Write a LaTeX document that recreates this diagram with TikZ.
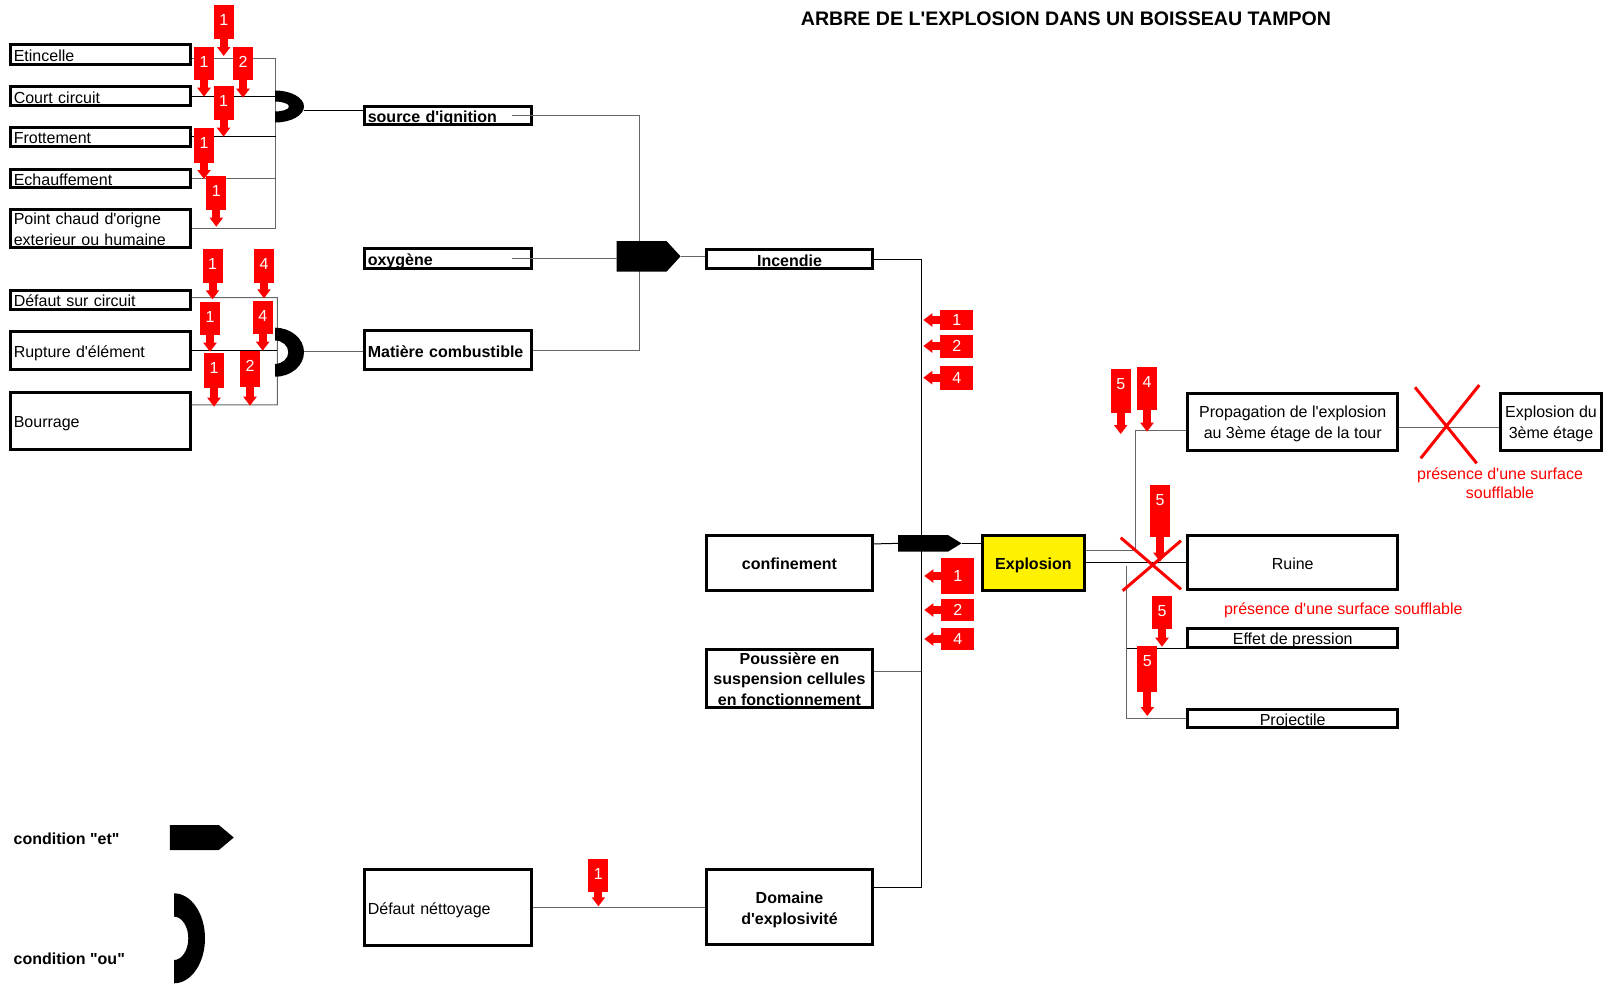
\documentclass[tikz,border=0pt]{standalone}
\usepackage{fontspec}
\setmainfont{Liberation Sans}[Ligatures=TeXOff]
\usetikzlibrary{positioning}
\usetikzlibrary{shapes.symbols}
\usetikzlibrary{arrows.meta}

\tikzset{
  box/.style={draw, line width=1.5pt, inner sep=0pt, font=\fontsize{8}{10.3}\selectfont},
  one/.style={text height=7.5pt, text depth=0.7pt},
  ibox/.style={box, align=left, inner xsep=1.5pt, text width=#1},
  cbox/.style={box, align=center, minimum width=83pt},
  bold/.style={font=\fontsize{8}{10.3}\selectfont\bfseries},
  note/.style={text=red, inner sep=0pt, font=\fontsize{8}{9.6}\selectfont},
  wire/.style={draw=black!60, line width=0.5pt},
  bwire/.style={draw=black, line width=0.5pt},
  cut/.style={draw=red, line width=1.5pt},
  andgate/.style={signal, signal to=east, fill=black, inner sep=0pt, outer sep=0pt},
  flag/.style={fill=red, text=white, minimum width=10pt, inner sep=0pt, outer sep=0pt,
    font=\fontsize{8}{9.8}\selectfont},
  flagnum/.style={text=white, inner xsep=0pt, inner ysep=4.5pt, font=\fontsize{8}{9.8}\selectfont},
  flagarrow/.style={draw=red, line width=4pt, -{Triangle[width=6.5pt, length=4.5pt]}}
}

% name, tip, flag height, arrow length, number
\newcommand{\tikzFlagDown}[5]{
  \coordinate (#1-tip) at #2;
  \node[flag, minimum height=#3, above=#4 of #1-tip] (#1) {};
  \node[flagnum, anchor=north] (#1-num) at (#1.north) {#5};
  \draw[flagarrow] (#1) -- (#1-tip);
}
% name, tip, flag height, number
\newcommand{\tikzFlagLeft}[4]{
  \coordinate (#1-tip) at #2;
  \node[flag, minimum width=16.5pt, minimum height=#3, right=8.5pt of #1-tip] (#1) {#4};
  \draw[flagarrow] (#1) -- (#1-tip);
}
% left middle, outer x/y radius, inner x/y radius
\newcommand{\tikzOrGate}[5]{\fill #1 ++(0,-#3) arc[start angle=90, end angle=-90, x radius=#2*0.5pt, y radius=#3*0.5pt]
  -- ++(0,-#3+#5) arc[start angle=-90, end angle=90, x radius=#4*0.5pt, y radius=#5*0.5pt] -- cycle}
\newcommand{\tikzTopStrut}[1]{\rule{0pt}{#1}}

\begin{document}
\begin{tikzpicture}[x=0.5pt, y=-0.5pt]
\useasboundingbox (0,0) rectangle (1604,986);

\node[font=\fontsize{9.8}{11}\selectfont\bfseries] (title) at (1066,18.5) {ARBRE DE L'EXPLOSION DANS UN BOISSEAU TAMPON};

% causes
\node[ibox=86.7pt, one, minimum height=9.7pt] (etinc) at (100.5,54.5) {Etincelle};
\node[ibox=86.7pt, one, minimum height=9.6pt] (court) at (100.5,96.2) {Court circuit};
\node[ibox=86.7pt, one, minimum height=9.4pt] (frott) at (100.5,136.9) {Frottement};
\node[ibox=86.7pt, one, minimum height=9.2pt] (echauf) at (100.5,178.3) {Echauffement};
\node[ibox=86.7pt, minimum height=19pt] (pchaud) at (100.5,228.2) {\tikzTopStrut{7pt}Point chaud d'origne\\exterieur ou humaine};
\node[ibox=86.7pt, one, minimum height=9.2pt] (defcirc) at (100.5,300) {Défaut sur circuit};
\node[ibox=86.7pt, one, minimum height=18.9pt] (rupt) at (100.5,350.4) {Rupture d'élément};
\node[ibox=86.7pt, one, minimum height=28.6pt] (bourr) at (100.5,420.9) {Bourrage};

\node[ibox=80.2pt, one, bold, minimum height=9pt] (src) at (448,115.5) {source d'ignition};
\node[ibox=80.2pt, one, bold, minimum height=10.2pt] (oxy) at (448,258.4) {oxygène};
\node[ibox=80.2pt, one, bold, minimum height=19.5pt] (matiere) at (448,350.4) {Matière combustible};
\node[ibox=80.2pt, one, minimum height=38.4pt] (defnet) at (448,907.4) {Défaut néttoyage};

\node[cbox, one, bold, minimum height=9.4pt] (incendie) at (789.5,259.2) {Incendie};
\node[cbox, one, bold, minimum height=27.4pt] (confin) at (789.5,562.9) {confinement};
\node[cbox, bold, minimum height=29pt] (pouss) at (789.5,678.8) {Poussière en\\suspension cellules\\en fonctionnement};
\node[cbox, font=\fontsize{8}{10.8}\selectfont\bfseries, minimum height=37.9pt] (domaine) at (789.5,906.9) {\tikzTopStrut{8.8pt}Domaine\\d'explosivité};

\node[cbox, one, bold, fill=yellow, minimum width=51pt, minimum height=27.4pt] (explosion) at (1033.4,562.9) {Explosion};

\node[cbox, minimum width=105.2pt, minimum height=28.5pt] (propag) at (1292.7,421.7) {\tikzTopStrut{7.8pt}Propagation de l'explosion\\au 3ème étage de la tour};
\node[cbox, one, minimum width=105.2pt, minimum height=27pt] (ruine) at (1292.7,562.5) {Ruine};
\node[cbox, one, minimum width=105.2pt, minimum height=9.5pt] (effet) at (1292.7,637.7) {Effet de pression};
\node[cbox, one, minimum width=105.2pt, minimum height=9pt] (project) at (1292.7,718.8) {Projectile};
\node[cbox, minimum width=50.2pt, minimum height=28.5pt] (expl3) at (1551,421.7) {\tikzTopStrut{7.8pt}Explosion du\\3ème étage};

\node[note, align=center] (note1) at (1500,483.2) {présence d'une surface\\soufflable};
\node[note] (note2) at (1343.3,610) {présence d'une surface soufflable};

% wires
\coordinate (busA) at (275.5,58.3);
\draw[wire] ([yshift=-1.9pt]etinc.east) -- (busA) -- (busA |- pchaud.east) -- (pchaud.east);
\draw[bwire] (court.east) -- (court.east -| busA);
\draw[bwire] (frott.east) -- (frott.east -| busA);
\draw[wire] (echauf.east) -- (echauf.east -| busA);
\coordinate (or1) at (304,110.5);
\draw[bwire] (or1) -- (or1 -| src.west);

\coordinate (busA2) at (277.3,297.7);
\coordinate (bourr-o) at ([yshift=8pt]bourr.east);
\draw[wire] ([yshift=1.2pt]defcirc.east) -- (busA2) -- (busA2 |- bourr-o) -- (bourr-o);
\draw[bwire] (rupt.east) -- (rupt.east -| busA2);
\coordinate (or2) at (304,351.7);
\draw[wire] (or2) -- (or2 -| matiere.west);

\coordinate (busB) at (639.3,114.3);
\draw[wire] ([xshift=-10.5pt]src.east) -- (src.east -| busB) -- (busB |- matiere.east) -- (matiere.east);

\coordinate (busC) at (921,258.3);
\coordinate (pouss-o) at ([yshift=3.5pt]pouss.east);
\coordinate (confin-o) at ([yshift=9.5pt]confin.east);
\coordinate (domaine-o) at ([yshift=9.5pt]domaine.east);
\draw[bwire] (incendie.east) -- (incendie.east -| busC) -- (busC |- domaine-o) -- (domaine-o);
\draw[wire] (pouss-o) -- (pouss-o -| busC);
\draw[wire] (defnet.east) -- (defnet.east -| domaine.west);

\node[andgate, minimum width=32pt, minimum height=15.35pt, signal pointer angle=95] (and1) at (641.5,256.35) {};
\node[andgate, minimum width=31.7pt, minimum height=8.35pt, signal pointer angle=63] (and2) at (923,543.35) {};
\draw[wire] ([xshift=-10.5pt]oxy.east) -- (and1.west |- oxy.east);
\draw[wire] (and1.east) -- (and1.east -| incendie.west);
\draw[bwire] (confin-o) -- (and2.west);
\draw[bwire] (and2.east) -- (and2.east -| explosion.west);

\coordinate (busD) at (1135,550.9);
\coordinate (expl-up) at ([yshift=6pt]explosion.east);
\coordinate (propag-i) at ([yshift=-4.5pt]propag.west);
\draw[wire] (expl-up) -- (expl-up -| busD) -- (busD |- propag-i) -- (propag-i);
\draw[bwire] (explosion.east) -- (explosion.east -| ruine.west);
\coordinate (busE) at (1126.7,566);
\draw[wire] (busE) -- (busE |- project.west) -- (project.west);
\draw[bwire] (busE |- effet.south west) -- (effet.south west);
\draw[wire] ([yshift=-2.8pt]propag.east) -- ([yshift=-2.8pt]expl3.west);

% gates
\tikzOrGate{(275,106.5)}{29}{16}{14}{5};
\tikzOrGate{(275,352.2)}{29}{24.5}{13.3}{11.7};

\draw[cut] (1415,387.3) -- (1476.7,463.3) (1479.3,385) -- (1420.7,458.3);
\draw[cut] (1120.7,537.7) -- (1181,589.3) (1181,540.7) -- (1122.7,590.7);

% flags
\tikzFlagDown{ign1}{(223.7,56)}{17pt}{8.5pt}{1}
\tikzFlagDown{ign2}{(204,96.7)}{16.7pt}{8.3pt}{1}
\tikzFlagDown{ign3}{(243,97.7)}{16.7pt}{8.8pt}{2}
\tikzFlagDown{ign4}{(223.5,136.7)}{17pt}{8.3pt}{1}
\tikzFlagDown{ign5}{(204,179)}{17.5pt}{7.8pt}{1}
\tikzFlagDown{ign6}{(216.3,226.7)}{17pt}{8.3pt}{1}
\tikzFlagDown{comb1}{(212.5,299.3)}{16.7pt}{8.3pt}{1}
\tikzFlagDown{comb2}{(264,298.3)}{16.7pt}{7.8pt}{4}
\tikzFlagDown{comb3}{(210,351.7)}{16.7pt}{8.3pt}{1}
\tikzFlagDown{comb4}{(262.7,350.7)}{16.7pt}{8.3pt}{4}
\tikzFlagDown{comb5}{(214,406.7)}{17.8pt}{9.2pt}{1}
\tikzFlagDown{comb6}{(250,405.7)}{17.8pt}{9.5pt}{2}
\tikzFlagDown{prop5}{(1120.7,434)}{21.7pt}{10.7pt}{5}
\tikzFlagDown{prop4}{(1147,431.7)}{21.7pt}{10.8pt}{4}
\tikzFlagDown{ruin5}{(1160,561.7)}{25.8pt}{12.5pt}{5}
\tikzFlagDown{eff5}{(1162,646.7)}{16.8pt}{8.7pt}{5}
\tikzFlagDown{proj5}{(1147.3,716)}{23.3pt}{11.8pt}{5}
\tikzFlagDown{net1}{(598.4,906.3)}{16.4pt}{7.2pt}{1}

\tikzFlagLeft{inc1}{(923.3,320)}{10.4pt}{1}
\tikzFlagLeft{inc2}{(923.3,346)}{11.5pt}{2}
\tikzFlagLeft{inc4}{(923.3,377.7)}{12pt}{4}
\tikzFlagLeft{exp1}{(924.3,576)}{18pt}{1}
\tikzFlagLeft{exp2}{(924.3,610)}{10.9pt}{2}
\tikzFlagLeft{exp4}{(924.3,639)}{11.2pt}{4}

% legend
\node[bold, inner sep=0pt, anchor=west] (legand) at (13.3,838.8) {condition "et"};
\node[andgate, minimum width=32pt, minimum height=12.5pt, signal pointer angle=80] (legandgate) at (194.3,837.5) {};
\node[bold, inner sep=0pt, anchor=west] (legor) at (13.3,958.3) {condition "ou"};
\tikzOrGate{(174,938.3)}{31}{45}{14.3}{21.7};
\end{tikzpicture}
\end{document}
